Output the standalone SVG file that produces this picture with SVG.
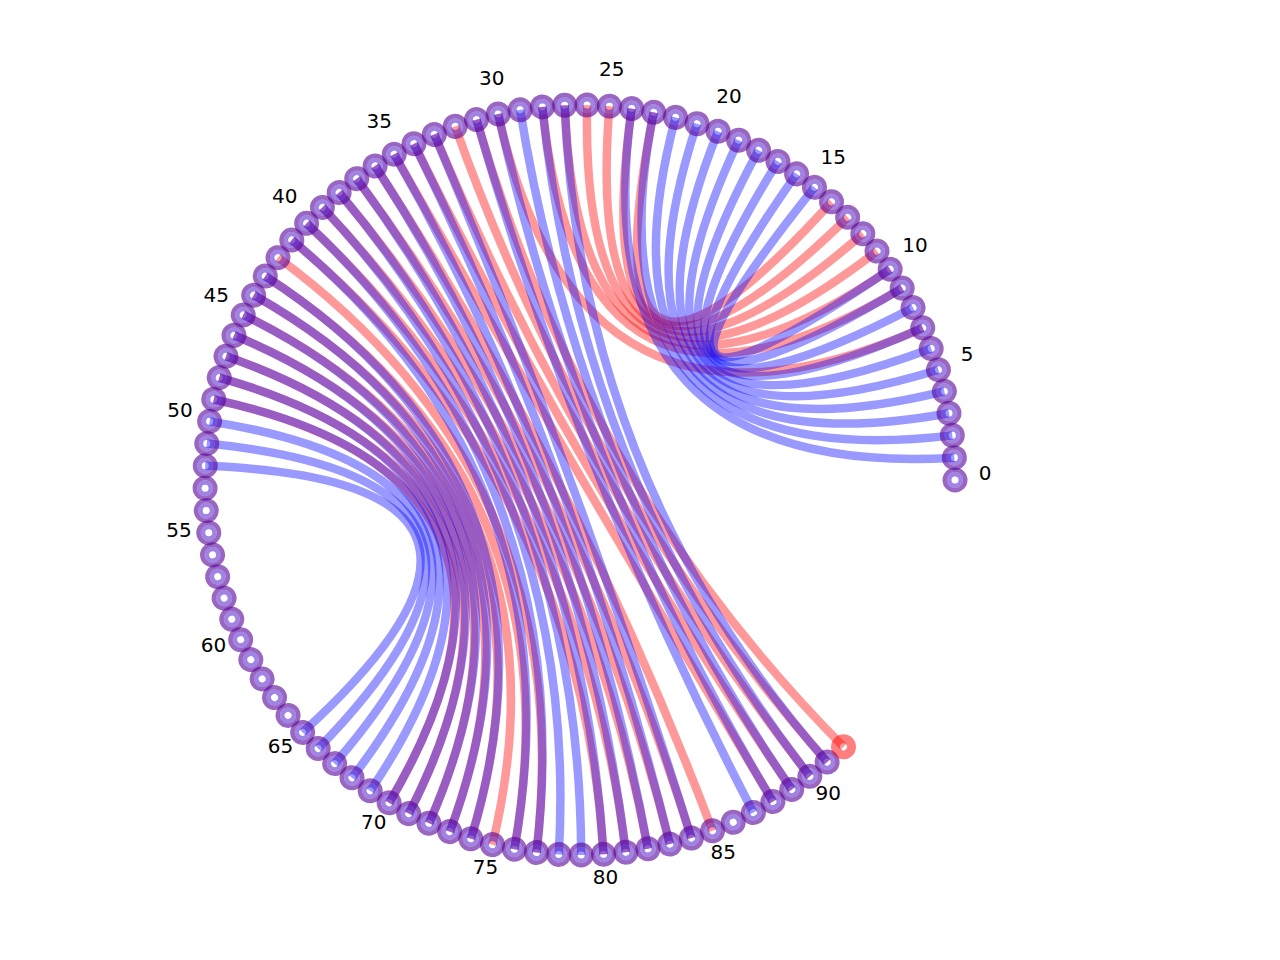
<svg xmlns="http://www.w3.org/2000/svg" xmlns:xlink="http://www.w3.org/1999/xlink" width="1280" height="960" viewBox="0 0 1280 960">
<style>
.r{fill:none;stroke:#ff0000;stroke-opacity:0.4;stroke-width:8.5}
.b{fill:none;stroke:#0000ff;stroke-opacity:0.4;stroke-width:8.5}
.ro{fill:none;stroke:#550099;stroke-opacity:0.6;stroke-width:4.5}
.ri{fill:none;stroke:#4812c8;stroke-opacity:0.52;stroke-width:4.5}
.rr{fill:none;stroke:#ff0000;stroke-opacity:0.5;stroke-width:9}
text{font-family:"DejaVu Sans","Liberation Sans",sans-serif;font-size:20px;fill:#000;text-anchor:middle}
</style>
<defs>
<g id="pm"><circle cx="955" cy="480" r="10.25" class="ro"/><circle cx="955" cy="480" r="5.75" class="ri"/></g>
<g id="rm"><circle cx="955" cy="480" r="8" class="rr"/></g>
</defs>
<rect width="1280" height="960" fill="#fff"/>
<g id="connectors">
<g id="red-edges">
<g transform="rotate(-63.27 580 480)">
<path class="r" d="M870.01,242.26 Q580,480 870.01,717.74"/>
<path class="r" d="M896.30,278.55 Q580,480 896.30,681.45"/>
<path class="r" d="M907.76,297.80 Q580,480 907.76,662.20"/>
<path class="r" d="M918.05,317.67 Q580,480 918.05,642.33"/>
<path class="r" d="M927.13,338.12 Q580,480 927.13,621.88"/>
<path class="r" d="M934.97,359.08 Q580,480 934.97,600.92"/>
<path class="r" d="M941.55,380.48 Q580,480 941.55,579.52"/>
</g>
<g transform="rotate(-210.33 580 480)">
<path class="r" d="M487.31,116.64 Q580,480 487.31,843.36"/>
<path class="r" d="M509.15,111.75 Q580,480 509.15,848.25"/>
<path class="r" d="M531.25,108.18 Q580,480 531.25,851.82"/>
<path class="r" d="M553.51,105.94 Q580,480 553.51,854.06"/>
<path class="r" d="M575.88,105.02 Q580,480 575.88,854.98"/>
</g>
<g transform="rotate(-206.91 580 480)">
<path class="r" d="M620.57,107.20 Q580,480 620.57,852.80"/>
<path class="r" d="M642.73,110.28 Q580,480 642.73,849.72"/>
<path class="r" d="M664.68,114.68 Q580,480 664.68,845.32"/>
<path class="r" d="M686.32,120.39 Q580,480 686.32,839.61"/>
<path class="r" d="M707.58,127.37 Q580,480 707.58,832.63"/>
<path class="r" d="M728.39,135.61 Q580,480 728.39,824.39"/>
</g>
<g transform="rotate(-203.49 580 480)">
<path class="r" d="M768.35,155.73 Q580,480 768.35,804.27"/>
<path class="r" d="M787.36,167.55 Q580,480 787.36,792.45"/>
<path class="r" d="M805.65,180.48 Q580,480 805.65,779.52"/>
<path class="r" d="M822.88,194.28 Q580,480 822.88,765.72"/>
<path class="r" d="M839.55,209.34 Q580,480 839.55,750.66"/>
<path class="r" d="M855.28,225.34 Q580,480 855.28,734.66"/>
<path class="r" d="M870.01,242.26 Q580,480 870.01,717.74"/>
<path class="r" d="M883.70,260.02 Q580,480 883.70,699.98"/>
</g>
</g>
<g id="blue-edges">
<g transform="rotate(-42.75 580 480)">
<path class="b" d="M870.01,242.26 Q580,480 870.01,717.74"/>
<path class="b" d="M883.70,260.02 Q580,480 883.70,699.98"/>
<path class="b" d="M896.30,278.55 Q580,480 896.30,681.45"/>
<path class="b" d="M907.76,297.80 Q580,480 907.76,662.20"/>
<path class="b" d="M918.05,317.67 Q580,480 918.05,642.33"/>
<path class="b" d="M927.13,338.12 Q580,480 927.13,621.88"/>
<path class="b" d="M934.97,359.08 Q580,480 934.97,600.92"/>
<path class="b" d="M941.55,380.48 Q580,480 941.55,579.52"/>
<path class="b" d="M946.85,402.22 Q580,480 946.85,557.78"/>
<path class="b" d="M950.83,424.24 Q580,480 950.83,535.76"/>
</g>
<g transform="rotate(-201.78 580 480)">
<path class="b" d="M455.19,126.38 Q580,480 455.19,833.62"/>
<path class="b" d="M476.51,119.56 Q580,480 476.51,840.44"/>
<path class="b" d="M498.20,114.03 Q580,480 498.20,845.97"/>
<path class="b" d="M520.18,109.80 Q580,480 520.18,850.20"/>
<path class="b" d="M542.36,106.89 Q580,480 542.36,853.11"/>
</g>
<g transform="rotate(-200.07 580 480)">
<path class="b" d="M598.26,105.44 Q580,480 598.26,854.56"/>
<path class="b" d="M620.57,107.20 Q580,480 620.57,852.80"/>
<path class="b" d="M642.73,110.28 Q580,480 642.73,849.72"/>
<path class="b" d="M664.68,114.68 Q580,480 664.68,845.32"/>
<path class="b" d="M686.32,120.39 Q580,480 686.32,839.61"/>
<path class="b" d="M707.58,127.37 Q580,480 707.58,832.63"/>
<path class="b" d="M728.39,135.61 Q580,480 728.39,824.39"/>
<path class="b" d="M748.67,145.07 Q580,480 748.67,814.93"/>
<path class="b" d="M768.35,155.73 Q580,480 768.35,804.27"/>
<path class="b" d="M805.65,180.48 Q580,480 805.65,779.52"/>
<path class="b" d="M822.88,194.28 Q580,480 822.88,765.72"/>
<path class="b" d="M839.55,209.34 Q580,480 839.55,750.66"/>
<path class="b" d="M855.28,225.34 Q580,480 855.28,734.66"/>
<path class="b" d="M870.01,242.26 Q580,480 870.01,717.74"/>
<path class="b" d="M883.70,260.02 Q580,480 883.70,699.98"/>
<path class="b" d="M896.30,278.55 Q580,480 896.30,681.45"/>
<path class="b" d="M907.76,297.80 Q580,480 907.76,662.20"/>
<path class="b" d="M918.05,317.67 Q580,480 918.05,642.33"/>
<path class="b" d="M927.13,338.12 Q580,480 927.13,621.88"/>
</g>
</g>
</g>
<g id="nodes">
<g id="node-0"><use href="#pm" transform="rotate(0 580 480)"/></g>
<g id="node-1"><use href="#pm" transform="rotate(-3.42 580 480)"/></g>
<g id="node-2"><use href="#pm" transform="rotate(-6.84 580 480)"/></g>
<g id="node-3"><use href="#pm" transform="rotate(-10.26 580 480)"/></g>
<g id="node-4"><use href="#pm" transform="rotate(-13.68 580 480)"/></g>
<g id="node-5"><use href="#pm" transform="rotate(-17.1 580 480)"/></g>
<g id="node-6"><use href="#pm" transform="rotate(-20.52 580 480)"/></g>
<g id="node-7"><use href="#pm" transform="rotate(-23.94 580 480)"/></g>
<g id="node-8"><use href="#pm" transform="rotate(-27.36 580 480)"/></g>
<g id="node-9"><use href="#pm" transform="rotate(-30.78 580 480)"/></g>
<g id="node-10"><use href="#pm" transform="rotate(-34.2 580 480)"/></g>
<g id="node-11"><use href="#pm" transform="rotate(-37.62 580 480)"/></g>
<g id="node-12"><use href="#pm" transform="rotate(-41.04 580 480)"/></g>
<g id="node-13"><use href="#pm" transform="rotate(-44.46 580 480)"/></g>
<g id="node-14"><use href="#pm" transform="rotate(-47.88 580 480)"/></g>
<g id="node-15"><use href="#pm" transform="rotate(-51.3 580 480)"/></g>
<g id="node-16"><use href="#pm" transform="rotate(-54.72 580 480)"/></g>
<g id="node-17"><use href="#pm" transform="rotate(-58.14 580 480)"/></g>
<g id="node-18"><use href="#pm" transform="rotate(-61.56 580 480)"/></g>
<g id="node-19"><use href="#pm" transform="rotate(-64.98 580 480)"/></g>
<g id="node-20"><use href="#pm" transform="rotate(-68.4 580 480)"/></g>
<g id="node-21"><use href="#pm" transform="rotate(-71.82 580 480)"/></g>
<g id="node-22"><use href="#pm" transform="rotate(-75.24 580 480)"/></g>
<g id="node-23"><use href="#pm" transform="rotate(-78.66 580 480)"/></g>
<g id="node-24"><use href="#pm" transform="rotate(-82.08 580 480)"/></g>
<g id="node-25"><use href="#pm" transform="rotate(-85.5 580 480)"/></g>
<g id="node-26"><use href="#pm" transform="rotate(-88.92 580 480)"/></g>
<g id="node-27"><use href="#pm" transform="rotate(-92.34 580 480)"/></g>
<g id="node-28"><use href="#pm" transform="rotate(-95.76 580 480)"/></g>
<g id="node-29"><use href="#pm" transform="rotate(-99.18 580 480)"/></g>
<g id="node-30"><use href="#pm" transform="rotate(-102.6 580 480)"/></g>
<g id="node-31"><use href="#pm" transform="rotate(-106.02 580 480)"/></g>
<g id="node-32"><use href="#pm" transform="rotate(-109.44 580 480)"/></g>
<g id="node-33"><use href="#pm" transform="rotate(-112.86 580 480)"/></g>
<g id="node-34"><use href="#pm" transform="rotate(-116.28 580 480)"/></g>
<g id="node-35"><use href="#pm" transform="rotate(-119.7 580 480)"/></g>
<g id="node-36"><use href="#pm" transform="rotate(-123.12 580 480)"/></g>
<g id="node-37"><use href="#pm" transform="rotate(-126.54 580 480)"/></g>
<g id="node-38"><use href="#pm" transform="rotate(-129.96 580 480)"/></g>
<g id="node-39"><use href="#pm" transform="rotate(-133.38 580 480)"/></g>
<g id="node-40"><use href="#pm" transform="rotate(-136.8 580 480)"/></g>
<g id="node-41"><use href="#pm" transform="rotate(-140.22 580 480)"/></g>
<g id="node-42"><use href="#pm" transform="rotate(-143.64 580 480)"/></g>
<g id="node-43"><use href="#pm" transform="rotate(-147.06 580 480)"/></g>
<g id="node-44"><use href="#pm" transform="rotate(-150.48 580 480)"/></g>
<g id="node-45"><use href="#pm" transform="rotate(-153.9 580 480)"/></g>
<g id="node-46"><use href="#pm" transform="rotate(-157.32 580 480)"/></g>
<g id="node-47"><use href="#pm" transform="rotate(-160.74 580 480)"/></g>
<g id="node-48"><use href="#pm" transform="rotate(-164.16 580 480)"/></g>
<g id="node-49"><use href="#pm" transform="rotate(-167.58 580 480)"/></g>
<g id="node-50"><use href="#pm" transform="rotate(-171 580 480)"/></g>
<g id="node-51"><use href="#pm" transform="rotate(-174.42 580 480)"/></g>
<g id="node-52"><use href="#pm" transform="rotate(-177.84 580 480)"/></g>
<g id="node-53"><use href="#pm" transform="rotate(-181.26 580 480)"/></g>
<g id="node-54"><use href="#pm" transform="rotate(-184.68 580 480)"/></g>
<g id="node-55"><use href="#pm" transform="rotate(-188.1 580 480)"/></g>
<g id="node-56"><use href="#pm" transform="rotate(-191.52 580 480)"/></g>
<g id="node-57"><use href="#pm" transform="rotate(-194.94 580 480)"/></g>
<g id="node-58"><use href="#pm" transform="rotate(-198.36 580 480)"/></g>
<g id="node-59"><use href="#pm" transform="rotate(-201.78 580 480)"/></g>
<g id="node-60"><use href="#pm" transform="rotate(-205.2 580 480)"/></g>
<g id="node-61"><use href="#pm" transform="rotate(-208.62 580 480)"/></g>
<g id="node-62"><use href="#pm" transform="rotate(-212.04 580 480)"/></g>
<g id="node-63"><use href="#pm" transform="rotate(-215.46 580 480)"/></g>
<g id="node-64"><use href="#pm" transform="rotate(-218.88 580 480)"/></g>
<g id="node-65"><use href="#pm" transform="rotate(-222.3 580 480)"/></g>
<g id="node-66"><use href="#pm" transform="rotate(-225.72 580 480)"/></g>
<g id="node-67"><use href="#pm" transform="rotate(-229.14 580 480)"/></g>
<g id="node-68"><use href="#pm" transform="rotate(-232.56 580 480)"/></g>
<g id="node-69"><use href="#pm" transform="rotate(-235.98 580 480)"/></g>
<g id="node-70"><use href="#pm" transform="rotate(-239.4 580 480)"/></g>
<g id="node-71"><use href="#pm" transform="rotate(-242.82 580 480)"/></g>
<g id="node-72"><use href="#pm" transform="rotate(-246.24 580 480)"/></g>
<g id="node-73"><use href="#pm" transform="rotate(-249.66 580 480)"/></g>
<g id="node-74"><use href="#pm" transform="rotate(-253.08 580 480)"/></g>
<g id="node-75"><use href="#pm" transform="rotate(-256.5 580 480)"/></g>
<g id="node-76"><use href="#pm" transform="rotate(-259.92 580 480)"/></g>
<g id="node-77"><use href="#pm" transform="rotate(-263.34 580 480)"/></g>
<g id="node-78"><use href="#pm" transform="rotate(-266.76 580 480)"/></g>
<g id="node-79"><use href="#pm" transform="rotate(-270.18 580 480)"/></g>
<g id="node-80"><use href="#pm" transform="rotate(-273.6 580 480)"/></g>
<g id="node-81"><use href="#pm" transform="rotate(-277.02 580 480)"/></g>
<g id="node-82"><use href="#pm" transform="rotate(-280.44 580 480)"/></g>
<g id="node-83"><use href="#pm" transform="rotate(-283.86 580 480)"/></g>
<g id="node-84"><use href="#pm" transform="rotate(-287.28 580 480)"/></g>
<g id="node-85"><use href="#pm" transform="rotate(-290.7 580 480)"/></g>
<g id="node-86"><use href="#pm" transform="rotate(-294.12 580 480)"/></g>
<g id="node-87"><use href="#pm" transform="rotate(-297.54 580 480)"/></g>
<g id="node-88"><use href="#pm" transform="rotate(-300.96 580 480)"/></g>
<g id="node-89"><use href="#pm" transform="rotate(-304.38 580 480)"/></g>
<g id="node-90"><use href="#pm" transform="rotate(-307.8 580 480)"/></g>
<g id="node-91"><use href="#pm" transform="rotate(-311.22 580 480)"/></g>
<g id="node-92"><use href="#rm" transform="rotate(-314.64 580 480)"/></g>
</g>
<g id="labels">
<text x="985" y="480">0</text>
<text x="967.1" y="360.9">5</text>
<text x="915" y="252.4">10</text>
<text x="833.2" y="163.9">15</text>
<text x="729.1" y="103.4">20</text>
<text x="611.8" y="76.2">25</text>
<text x="491.7" y="84.8">30</text>
<text x="379.3" y="128.2">35</text>
<text x="284.8" y="202.8">40</text>
<text x="216.3" y="301.8">45</text>
<text x="180" y="416.6">50</text>
<text x="179" y="537.1">55</text>
<text x="213.5" y="652.4">60</text>
<text x="280.4" y="752.6">65</text>
<text x="373.8" y="828.6">70</text>
<text x="485.5" y="873.8">75</text>
<text x="605.4" y="884.2">80</text>
<text x="723.2" y="858.9">85</text>
<text x="828.3" y="800">90</text>
</g>
</svg>
